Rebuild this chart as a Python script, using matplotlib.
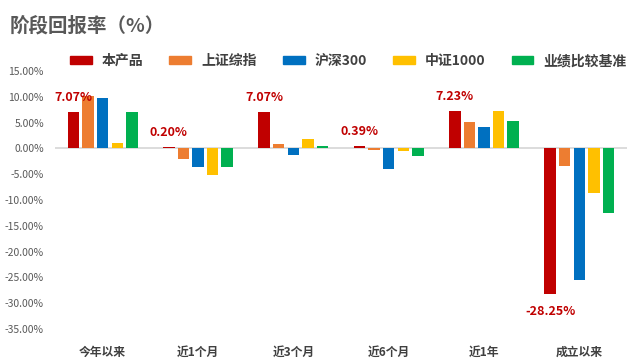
import numpy as np
import matplotlib.pyplot as plt
from matplotlib.patches import Patch

plt.rcParams['font.family'] = ['Noto Sans CJK SC', 'DejaVu Sans']

categories = ['今年以来', '近1个月', '近3个月', '近6个月', '近1年', '成立以来']
series_names = ['本产品', '上证综指', '沪深300', '中证1000', '业绩比较基准']
product = [7.07, 0.20, 7.07, 0.39, 7.23, -28.25]
sh_index = [10.1, -2.1, 0.8, -0.3, 5.2, -3.5]
hs300 = [9.8, -3.7, -1.3, -4.0, 4.1, -25.6]
zz1000 = [1.0, -5.2, 1.8, -0.5, 7.2, -8.7]
benchmark = [7.0, -3.7, 0.4, -1.5, 5.4, -12.6]
yticks = [15, 10, 5, 0, -5, -10, -15, -20, -25, -30, -35]

colors = ['#C00000', '#ED7D31', '#0070C0', '#FFC000', '#00B050']
data = [product, sh_index, hs300, zz1000, benchmark]

fig = plt.figure(figsize=(6.41, 3.61), dpi=100)
ax = fig.add_axes([55 / 641, 1 - 329 / 361, 572 / 641, 258 / 361])

x = np.arange(len(categories))
step = 0.153
width = 0.12
for i, (vals, c) in enumerate(zip(data, colors)):
    ax.bar(x + (i - 2) * step, vals, width=width, color=c, zorder=3)

# labels for the product only
for xi, v in zip(x, product):
    xp = xi - 2 * step
    if v >= 0:
        ax.annotate(f'{v:.2f}%', (xp, v), xytext=(0, 6), textcoords='offset points',
                    ha='center', va='bottom', color='#C00000', fontsize=9, fontweight='bold')
    else:
        ax.annotate(f'{v:.2f}%', (xp, v), xytext=(0, -8), textcoords='offset points',
                    ha='center', va='top', color='#C00000', fontsize=9, fontweight='bold')

ax.axhline(0, color='#D9D9D9', lw=1.3, zorder=2)
ax.set_xlim(-0.5, len(categories) - 0.5)
ax.set_ylim(-35, 15)
ax.set_yticks(yticks)
ax.set_yticklabels([f'{t:.2f}%' for t in yticks], fontsize=7.5, color='#595959')
ax.set_xticks(x)
ax.set_xticklabels(categories, fontsize=8.5, fontweight='bold', color='#404040')
ax.tick_params(axis='both', length=0)
ax.tick_params(axis='x', pad=12)
ax.tick_params(axis='y', pad=8)
for s in ax.spines.values():
    s.set_visible(False)

fig.text(10 / 641, 1 - 26 / 361, '阶段回报率（%）', fontsize=14, fontweight='bold',
         color='#595959', va='center', ha='left')

handles = [Patch(color=c, label=n) for c, n in zip(colors, series_names)]
fig.legend(handles=handles, loc='center left', bbox_to_anchor=(60 / 641, 1 - 61 / 361),
           ncol=5, frameon=False, handlelength=1.58, handleheight=0.58,
           handletextpad=0.72, columnspacing=1.87, borderpad=0.2,
           prop={'size': 10, 'weight': 'bold'}, labelcolor='#404040')

fig.savefig('out.png', dpi=100)
